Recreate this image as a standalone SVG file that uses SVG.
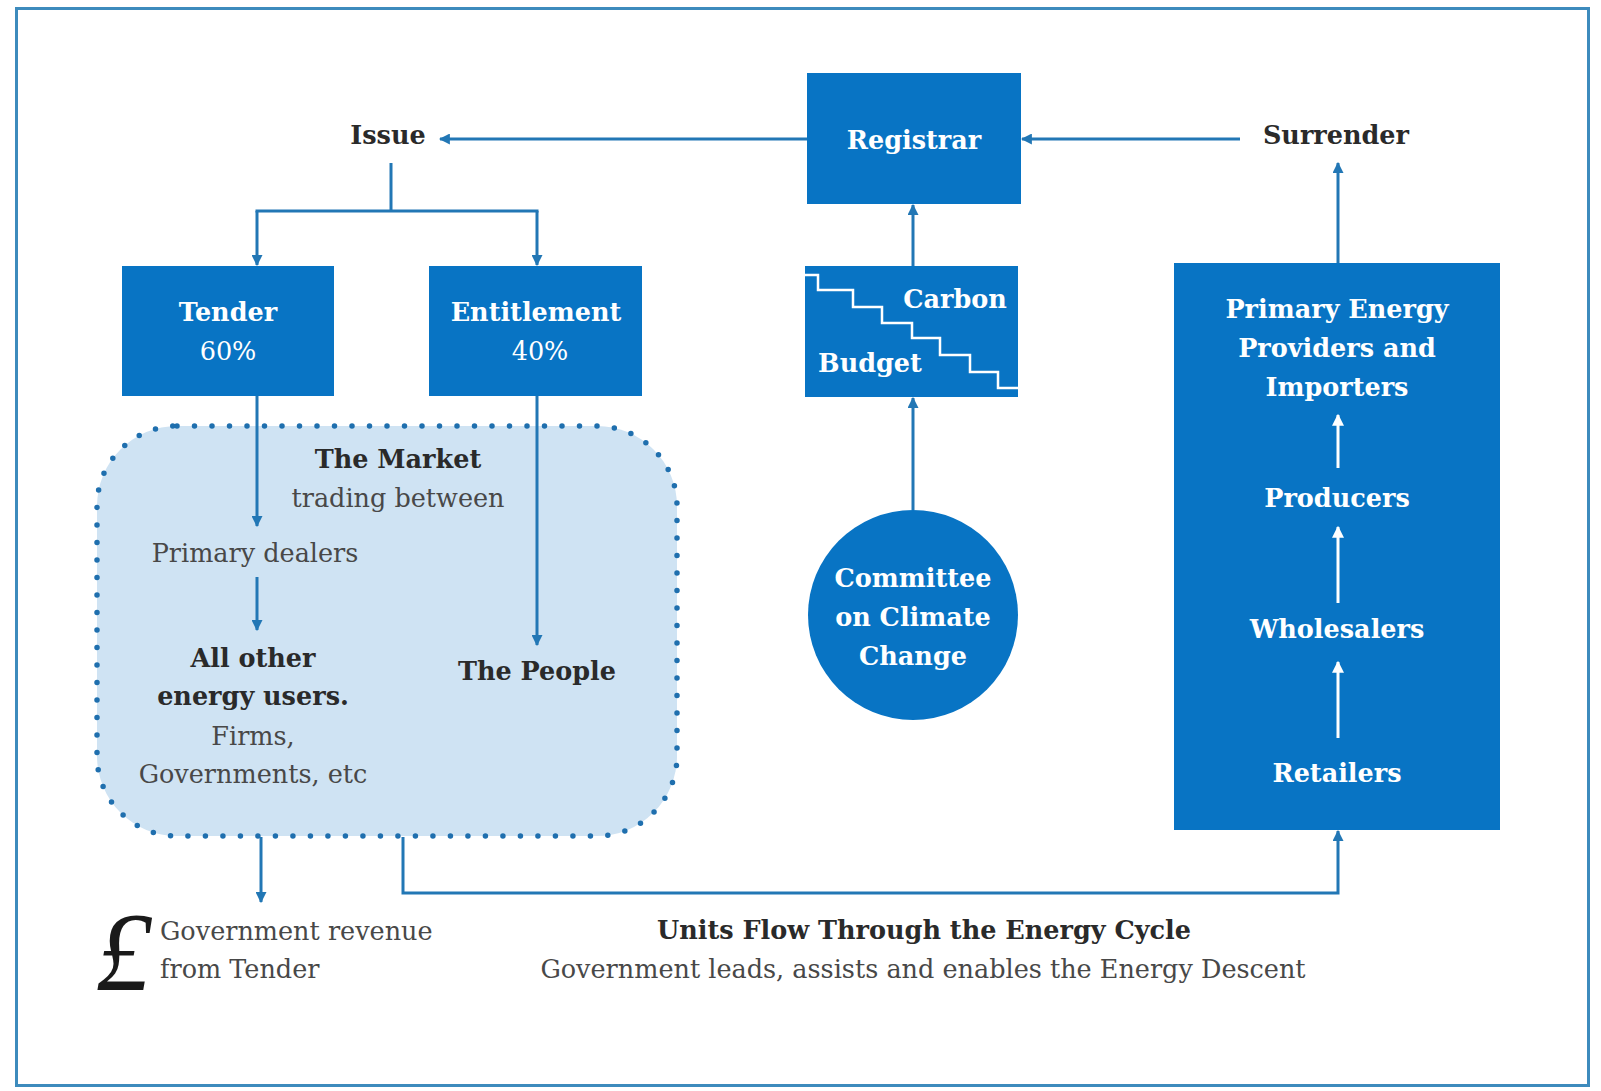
<svg xmlns="http://www.w3.org/2000/svg" width="1601" height="1091" viewBox="0 0 1601 1091">
<defs>
<marker id="ah" viewBox="0 0 10 10" refX="9" refY="5" markerWidth="11" markerHeight="11" markerUnits="userSpaceOnUse" orient="auto">
<path d="M0,0 L10,5 L0,10 z" fill="#2277b5"/>
</marker>
<marker id="ahw" viewBox="0 0 10 10" refX="9" refY="5" markerWidth="12" markerHeight="12" markerUnits="userSpaceOnUse" orient="auto">
<path d="M0,0 L10,5 L0,10 z" fill="#ffffff"/>
</marker>
<style>
.box{fill:#0874c4}
.conn{fill:none;stroke:#2277b5;stroke-width:3;marker-end:url(#ah)}
.line{fill:none;stroke:#2277b5;stroke-width:3}
.wconn{fill:none;stroke:#ffffff;stroke-width:3;marker-end:url(#ahw)}
.wb{font-family:"DejaVu Serif","Liberation Serif",serif;font-weight:bold;font-size:25.5px;fill:#ffffff;text-anchor:middle}
.wr{font-family:"DejaVu Serif","Liberation Serif",serif;font-size:25.5px;fill:#ffffff;text-anchor:middle}
.db{font-family:"DejaVu Serif","Liberation Serif",serif;font-weight:bold;font-size:25.5px;fill:#2a2a2a;text-anchor:middle}
.dr{font-family:"DejaVu Serif","Liberation Serif",serif;font-size:25.5px;fill:#484848;text-anchor:middle}
</style>
</defs>
<rect x="0" y="0" width="1601" height="1091" fill="#ffffff"/>
<rect id="frame" x="16.5" y="8.5" width="1572" height="1077" fill="#ffffff" stroke="#3d8bbd" stroke-width="3"/>

<g id="market">
<rect x="97" y="426" width="580" height="410" rx="80" ry="80" fill="#cfe3f3" stroke="#1f6fae" stroke-width="5.5" stroke-linecap="round" stroke-dasharray="0 17.5"/>
<text class="db" x="398" y="468">The Market</text>
<text class="dr" x="398" y="507">trading between</text>
</g>

<g id="connectors">
<path class="conn" d="M807,139 H440"/>
<path class="conn" d="M1240,139 H1022"/>
<path class="line" d="M391,163 V211"/>
<path class="conn" d="M257,211 V265"/>
<path class="conn" d="M537,211 V265"/>
<path class="line" d="M255.5,211 H538.5"/>
<path class="conn" d="M257,396 V526"/>
<path class="conn" d="M257,577 V630"/>
<path class="conn" d="M537,396 V645"/>
<path class="conn" d="M913,266 V205"/>
<path class="conn" d="M913,510 V398"/>
<path class="conn" d="M1338,263 V163"/>
<path class="conn" d="M261,837 V902"/>
<path class="conn" d="M403,837 V893 H1338 V831"/>
</g>

<g id="issue"><text class="db" x="388" y="144">Issue</text></g>
<g id="surrender"><text class="db" x="1336" y="144">Surrender</text></g>

<g id="registrar">
<rect class="box" x="807" y="73" width="214" height="131"/>
<text class="wb" x="914" y="149">Registrar</text>
</g>

<g id="tender">
<rect class="box" x="122" y="266" width="212" height="130"/>
<text class="wb" x="228" y="321">Tender</text>
<text class="wr" x="228" y="360">60%</text>
</g>

<g id="entitlement">
<rect class="box" x="429" y="266" width="213" height="130"/>
<text class="wb" x="536" y="321">Entitlement</text>
<text class="wr" x="540" y="360">40%</text>
</g>

<g id="carbon-budget">
<rect class="box" x="805" y="266" width="213" height="131"/>
<path d="M805,275 H818 V290 H853 V307 H882 V323 H912 V338 H940 V355 H970 V372 H998 V388 H1018" fill="none" stroke="#ffffff" stroke-width="2.5"/>
<text class="wb" x="955" y="308">Carbon</text>
<text class="wb" x="870" y="372">Budget</text>
</g>

<g id="committee">
<circle cx="913" cy="615" r="105" fill="#0874c4"/>
<text class="wb" x="913" y="587">Committee</text>
<text class="wb" x="913" y="626">on Climate</text>
<text class="wb" x="913" y="665">Change</text>
</g>

<g id="energy-chain">
<rect class="box" x="1174" y="263" width="326" height="567"/>
<text class="wb" x="1337" y="318">Primary Energy</text>
<text class="wb" x="1337" y="357">Providers and</text>
<text class="wb" x="1337" y="396">Importers</text>
<text class="wb" x="1337" y="507">Producers</text>
<text class="wb" x="1337" y="638">Wholesalers</text>
<text class="wb" x="1337" y="782">Retailers</text>
<path class="wconn" d="M1338,468 V415"/>
<path class="wconn" d="M1338,603 V527"/>
<path class="wconn" d="M1338,738 V662"/>
</g>

<g id="primary-dealers"><text class="dr" x="255" y="562">Primary dealers</text></g>
<g id="other-users">
<text class="db" x="253" y="667">All other</text>
<text class="db" x="253" y="705">energy users.</text>
<text class="dr" x="253" y="745">Firms,</text>
<text class="dr" x="253" y="783">Governments, etc</text>
</g>
<g id="people"><text class="db" x="537" y="680">The People</text></g>

<g id="revenue">
<text x="124" y="990" font-family="Liberation Serif, serif" font-style="italic" font-size="112" fill="#1a1a1a" text-anchor="middle">£</text>
<text class="dr" x="160" y="940" style="text-anchor:start">Government revenue</text>
<text class="dr" x="160" y="978" style="text-anchor:start">from Tender</text>
</g>

<g id="energy-cycle">
<text class="db" x="924" y="939">Units Flow Through the Energy Cycle</text>
<text class="dr" x="923" y="978">Government leads, assists and enables the Energy Descent</text>
</g>
</svg>
